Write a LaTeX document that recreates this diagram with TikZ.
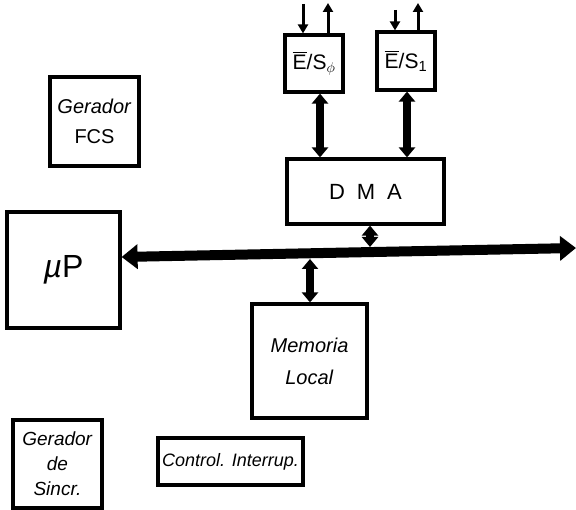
\documentclass[tikz,border=0pt]{standalone}
\usepackage{fontspec}
\setmainfont{Liberation Sans}
\usetikzlibrary{arrows.meta}
% E with a bar over it
\newcommand{\barE}{\leavevmode\vbox{\hrule height 1.3pt\kern1.8pt\hbox{E}}}
\begin{document}
\begin{tikzpicture}[x=1pt,y=-1pt,
  box/.style={draw, line width=3.2pt, inner sep=0pt, align=center},
  bus/.style={line width=10pt, {Triangle[width=24pt,length=16pt]}-{Triangle[width=24pt,length=16pt]}},
  link/.style={line width=8pt, {Triangle[width=16pt,length=10pt]}-{Triangle[width=16pt,length=10pt]}},
  sig/.style={line width=3pt, -{Triangle[width=10pt,length=9pt]}},
  esfont/.style={font=\fontsize{21}{23}\selectfont}
]
\useasboundingbox (0,0) rectangle (576,510);

% blocks
\node[box, minimum width=89pt, minimum height=89pt, font=\fontsize{20}{24}\selectfont] (fcs) at (94.5,121.5) {\textit{Gerador}\\[6pt]FCS};
\node[box, minimum width=113pt, minimum height=116pt, font=\fontsize{32}{34}\selectfont] (mup) at (63.5,270) {\textit{µ}P};
\node[box, esfont, minimum width=58pt, minimum height=57pt] (es0) at (314,63.5) {\barE/S\textsubscript{$\phi$}};
\node[box, esfont, minimum width=58pt, minimum height=58pt] (es1) at (406,61) {\barE/S\textsubscript{1}};
\node[box, minimum width=157pt, minimum height=65pt, font=\fontsize{22}{24}\selectfont] (dma) at (365.5,191.5) {D\hspace{12pt}M\hspace{12pt}A};
\node[box, minimum width=115pt, minimum height=114pt, font=\fontsize{20}{24}\selectfont] (mem) at (309.5,361) {\textit{Memoria}\\[8pt]\textit{Local}};
\node[box, minimum width=89pt, minimum height=88pt, font=\fontsize{19}{25}\selectfont] (sinc) at (57.5,464) {\textit{Gerador}\\\textit{de}\\\textit{Sincr.}};
\node[box, minimum width=145pt, minimum height=47pt, font=\fontsize{18}{20}\selectfont] (ctrl) at (230.5,461.5) {\textit{Control. Interrup.}};

% system bus
\coordinate (busL) at (mup.east |- 0,257);
\coordinate (busR) at (576,248);
\draw[bus] (busL) -- (busR);

% bus taps
\coordinate (dmatap) at (370,247);
\coordinate (memtap) at (310,259);
\draw[link] (dma.south -| dmatap) -- (dmatap);
\draw[link] (memtap) -- (mem.north -| memtap);

% I/O to DMA
\draw[link] ([xshift=6pt]es0.south) -- ([xshift=6pt]es0.south |- dma.north);
\draw[link] ([xshift=1pt]es1.south) -- ([xshift=1pt]es1.south |- dma.north);

% external lines of the I/O ports
\coordinate (in0) at (303,4);
\coordinate (out0) at (328,3);
\coordinate (in1) at (395,10);
\coordinate (out1) at (418,3);
\draw[sig] (in0) -- (es0.north -| in0);
\draw[sig] (es0.north -| out0) -- (out0);
\draw[sig] (in1) -- (es1.north -| in1);
\draw[sig] (es1.north -| out1) -- (out1);
\end{tikzpicture}
\end{document}
